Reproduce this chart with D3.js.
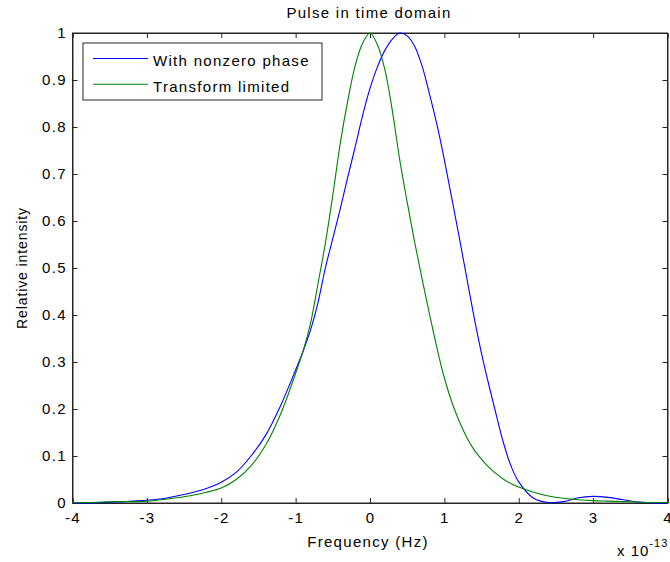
<!DOCTYPE html>
<html><head><meta charset="utf-8">
<script src="https://cdn.jsdelivr.net/npm/d3@7"></script>
<style>
body{margin:0;background:#fff;}
text{font-family:"Liberation Sans",Arial,sans-serif;fill:#000;}
</style></head>
<body>
<svg id="c" width="670" height="562"></svg>
<script>
const xTicks = [-4,-3,-2,-1,0,1,2,3,4];
const yTicks = [0,0.1,0.2,0.3,0.4,0.5,0.6,0.7,0.8,0.9,1];
const seriesNames = ["With nonzero phase","Transform limited"];
const seriesColors = ["#0000ff","#008000"];
const xs = [-4,-3.8,-3.6,-3.4,-3.2,-3,-2.8,-2.6,-2.4,-2.2,-2,-1.8,-1.6,-1.4,-1.2,
  -1,-0.9,-0.8,-0.7,-0.6,-0.5,-0.4,-0.3,-0.2,-0.1,0,0.1,0.2,0.3,0.4,0.5,0.6,0.7,0.8,0.9,1,1.1,1.2,1.3,1.4,
  1.5,1.6,1.7,1.8,1.9,2,2.2,2.4,2.6,2.8,3,3.2,3.4,3.6,3.8,4];
const phaseVals = [0,0,0.001,0.002,0.004,0.006,0.009,0.015,0.022,0.031,0.044,0.065,0.1,0.145,0.208,
  0.283,0.323,0.368,0.426,0.5,0.563,0.626,0.693,0.757,0.824,0.882,0.928,0.963,0.987,1.0,0.994,0.972,0.93,0.87,0.805,0.73,0.648,0.565,0.48,0.395,
  0.318,0.25,0.186,0.125,0.077,0.045,0.01,0.001,0.003,0.011,0.014,0.012,0.007,0.002,0,0];
const tlVals = [0.001,0.001,0.002,0.003,0.003,0.004,0.007,0.011,0.016,0.023,0.032,0.05,0.079,0.124,0.19,
  0.276,0.323,0.382,0.466,0.553,0.655,0.765,0.855,0.93,0.978,1.0,0.975,0.922,0.835,0.73,0.64,0.555,0.477,0.402,0.33,0.266,0.215,0.174,0.14,0.113,
  0.093,0.076,0.062,0.05,0.041,0.034,0.023,0.015,0.01,0.007,0.005,0.004,0.003,0.002,0.001,0.001];

const svg = d3.select("#c");
const L=72.5, R=667.5, T=33, B=503;
const x = d3.scaleLinear().domain([-4,4]).range([L,R]);
const y = d3.scaleLinear().domain([0,1]).range([B,T]);
const LS = "1.3px";

svg.append("rect").attr("x",L).attr("y",T).attr("width",R-L).attr("height",B-T)
  .attr("fill","#fff").attr("stroke","#262626").attr("stroke-width",1);

const ax = svg.append("g").attr("transform",`translate(0,${B})`)
  .call(d3.axisBottom(x).tickValues(xTicks).tickSize(-5).tickPadding(9).tickFormat(d=>String(d)));
const axT = svg.append("g").attr("transform",`translate(0,${T})`)
  .call(d3.axisTop(x).tickValues(xTicks).tickSize(-5).tickFormat(""));
const ay = svg.append("g").attr("transform",`translate(${L},0)`)
  .call(d3.axisLeft(y).tickValues(yTicks).tickSize(-5).tickPadding(7).tickFormat(d=>d===0?"0":d===1?"1":d3.format(".1f")(d)));
const ayR = svg.append("g").attr("transform",`translate(${R},0)`)
  .call(d3.axisRight(y).tickValues(yTicks).tickSize(-5).tickFormat(""));
[ax,axT,ay,ayR].forEach(g=>{
  g.select(".domain").attr("stroke","#262626");
  g.selectAll(".tick line").attr("stroke","#262626");
  g.selectAll("text").attr("font-size",15).attr("letter-spacing",LS)
   .attr("font-family","Liberation Sans, Arial, sans-serif").attr("fill","#000");
});
ay.selectAll("text").attr("dx","1.3px");

const line = d3.line().x((d,i)=>x(xs[i])).y(d=>y(d)).curve(d3.curveCatmullRom.alpha(0.5));
[phaseVals,tlVals].forEach((vals,k)=>{
  svg.append("path").datum(vals).attr("d",line).attr("fill","none")
    .attr("stroke",seriesColors[k]).attr("stroke-width",1.1);
});

svg.append("text").attr("x",369).attr("y",18).attr("text-anchor","middle").attr("font-size",15).attr("letter-spacing",LS).text("Pulse in time domain");
svg.append("text").attr("x",368).attr("y",547).attr("text-anchor","middle").attr("font-size",15).attr("letter-spacing",LS).text("Frequency (Hz)");
svg.append("text").attr("transform","translate(27,268) rotate(-90)").attr("text-anchor","middle").attr("font-size",14).attr("letter-spacing","0.9px").text("Relative intensity");
const ex = svg.append("text").attr("x",617).attr("y",556).attr("font-size",15).attr("letter-spacing","1px");
ex.append("tspan").text("x 10");
ex.append("tspan").attr("dy",-9).attr("font-size",11).text("-13");

const lg = svg.append("g");
lg.append("rect").attr("x",83).attr("y",43).attr("width",239).attr("height",57)
  .attr("fill","#fff").attr("stroke","#262626").attr("stroke-width",1);
seriesNames.forEach((n,i)=>{
  const yy = 58.5 + i*25.7;
  lg.append("line").attr("x1",93).attr("x2",148).attr("y1",yy).attr("y2",yy).attr("stroke",seriesColors[i]).attr("stroke-width",1.1);
  lg.append("text").attr("x",153).attr("y",yy+7.5).attr("font-size",15).attr("letter-spacing",LS).text(n);
});
</script>
</body></html>
